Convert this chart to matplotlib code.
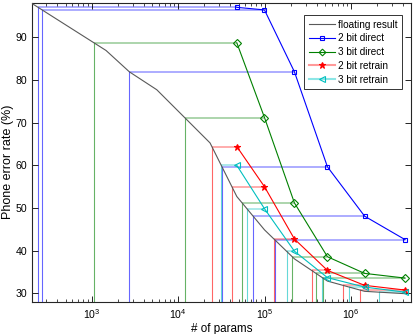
import numpy as np
import matplotlib
matplotlib.use("Agg")
import matplotlib.pyplot as plt
from matplotlib.lines import Line2D

plt.rcParams['font.family'] = ['Liberation Sans', 'DejaVu Sans']
plt.rcParams['mathtext.fontset'] = 'custom'
plt.rcParams['mathtext.rm'] = 'Liberation Sans'

# floating-point reference
float_params = [205, 1470, 2735, 5675, 23400, 47700, 99600, 221000, 532000, 1430000, 4200000]
float_err = [97.9, 86.9, 81.9, 77.7, 65.25, 52.7, 44.9, 38.1, 32.9, 30.5, 29.95]

# quantized networks (same network sizes)
q_params = [47700, 99600, 221000, 532000, 1430000, 4200000]
direct2 = [97.0, 96.4, 81.9, 59.65, 48.1, 42.6]
direct3 = [88.7, 71.2, 51.2, 38.6, 34.7, 33.6]
retrain2 = [64.4, 55.0, 42.75, 35.4, 31.9, 30.8]
retrain3 = [60.0, 49.85, 39.9, 33.7, 31.5, 30.3]

labels = ["floating result", "2 bit direct", "3 bit direct", "2 bit retrain", "3 bit retrain"]

fig = plt.figure(figsize=(4.15, 3.34), dpi=100)
ax = fig.add_axes([0.0771, 0.0958, 0.913, 0.895])

ymin, ymax = 28, 98
lx = np.log10(float_params)
fy = np.array(float_err)

series = [
    (direct2, (0, 0, 1), 's', 3.5, 'none'),
    (direct3, (0, 0.5, 0), 'D', 3.6, 'none'),
    (retrain2, (1, 0, 0), '*', 5.0, None),
    (retrain3, (0, 0.75, 0.75), '<', 4.0, 'none'),
]

# drop lines: horizontal to the floating curve, then vertical to the axis
for vals, col, mk, ms, mfc in series:
    for xq, yq in zip(q_params, vals):
        xe = 10 ** np.interp(yq, fy[::-1], lx[::-1])
        ax.plot([xe, xq], [yq, yq], color=col, lw=1.3, alpha=0.35, zorder=1,
                solid_capstyle='butt')
        ax.plot([xe, xe], [ymin, yq], color=col, lw=0.8, alpha=0.6, zorder=1)

ax.plot(float_params, float_err, color=(0.35, 0.35, 0.35), lw=0.8, zorder=3)
for vals, col, mk, ms, mfc in series:
    kw = dict(markerfacecolor=mfc) if mfc else {}
    ax.plot(q_params, vals, color=col, lw=0.8, marker=mk, ms=ms,
            markeredgewidth=0.8, zorder=4, **kw)

ax.set_xscale('log')
ax.set_xlim(205, 4.9e6)
ax.set_ylim(ymin, ymax)
ax.set_yticks([30, 40, 50, 60, 70, 80, 90])
ax.tick_params(which='both', direction='in', top=True, right=True, labelsize=7.6)
ax.tick_params(which='major', length=4, width=0.6)
ax.tick_params(which='minor', length=2, width=0.5)
for s in ax.spines.values():
    s.set_linewidth(0.8)
    s.set_color((0.15, 0.15, 0.15))

ax.set_xlabel("# of params", fontsize=8.4, labelpad=2)
ax.set_ylabel("Phone error rate (%)", fontsize=9)
ax.yaxis.set_label_coords(-0.047, 0.468)

handles = [
    Line2D([], [], color=(0.35, 0.35, 0.35), lw=0.8),
    Line2D([], [], color=(0, 0, 1), lw=0.8, marker='s', ms=3.5, mfc='none', mew=0.8),
    Line2D([], [], color=(0, 0.5, 0), lw=0.8, marker='D', ms=3.4, mfc='none', mew=0.8),
    Line2D([], [], color=(1, 0.6, 0.6), lw=1.5, marker='*', ms=5, mfc=(1, 0, 0), mec=(1, 0, 0), mew=0.8),
    Line2D([], [], color=(0.55, 0.9, 0.9), lw=1.5, marker='<', ms=4, mfc='none', mec=(0, 0.75, 0.75), mew=0.8),
]
leg = ax.legend(handles, labels, loc='upper right', bbox_to_anchor=(0.976, 0.960),
                fontsize=7.2, frameon=True, fancybox=False, edgecolor='black',
                handlelength=2.6, handletextpad=0.3, borderpad=0.45, labelspacing=0.38,
                borderaxespad=0.0)
leg.get_frame().set_linewidth(0.7)

fig.savefig("out.png", dpi=100)
